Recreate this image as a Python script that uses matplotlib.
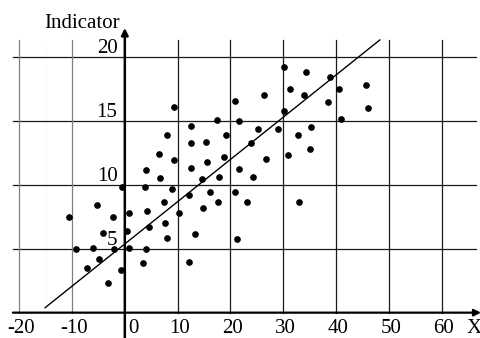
import matplotlib
matplotlib.use("Agg")
import matplotlib.pyplot as plt

# scatter data
x_vals = [9.4, 20.9, 17.5, 21.7, 12.5, 8.0, 12.5, 15.4, 19.1, 6.5,
          9.4, 12.6, 15.6, 18.7, 4.0, 6.6, 14.7, 17.8, -0.5, 3.8,
          9.0, 30.2, 34.3, 38.9, 45.6, 40.6, 31.2, 26.3, 33.9, 38.4,
          46.0, 30.2, 40.9, 25.2, 29.0, 35.3, 32.8, 23.9, 35.0, 31.0,
          26.7, 21.6, 24.2, 16.2, 12.1, 20.9, 7.4, 17.6, 23.2, 32.9,
          14.8, 10.3, 7.6, 13.3, 8.0, 21.3, 12.1, -5.3, -10.5, -2.3,
          0.8, 4.2, 4.5, -4.1, 0.4, -9.3, -6.0, -2.1, 0.8, 4.0,
          -4.8, -7.2, -0.8, 3.5, -3.1]
y_vals = [16.05, 16.54, 15.09, 15.0, 14.6, 13.87, 13.23, 13.31, 13.86, 12.42,
          11.93, 11.3, 11.77, 12.19, 11.17, 10.56, 10.41, 10.57, 9.78, 9.84,
          9.7, 19.17, 18.78, 18.41, 17.79, 17.48, 17.48, 17.0, 17.0, 16.44,
          15.97, 15.73, 15.16, 14.35, 14.35, 14.51, 13.86, 13.23, 12.81, 12.34,
          12.01, 11.19, 10.58, 9.43, 9.2, 9.43, 8.63, 8.63, 8.62, 8.62,
          8.16, 7.75, 7.03, 6.15, 5.81, 5.73, 3.98, 8.41, 7.5, 7.5,
          7.75, 7.91, 6.7, 6.23, 6.38, 4.94, 5.08, 5.0, 5.08, 5.0,
          4.22, 3.49, 3.34, 3.9, 2.28]

# trend line
fit_slope = 0.33
fit_intercept = 5.37
fit_x = [-15.1, 48.3]

x_ticks = [-20, -10, 0, 10, 20, 30, 40, 50, 60]
y_ticks = [5, 10, 15, 20]

plt.rcParams['font.family'] = ['Liberation Serif', 'DejaVu Serif']

fig = plt.figure(figsize=(4.81, 3.38), dpi=100)
ax = fig.add_axes([0, 0, 1, 1])
ax.set_xlim(-23.64, 67.46)
ax.set_ylim(-1.98, 24.43)
ax.axis('off')

x_left, x_right = -21.2, 66.5
y_top = 21.3

# grid
for yt in y_ticks:
    ax.plot([x_left, x_right], [yt, yt], color='#1a1a1a', lw=0.9, zorder=1)
for xt in x_ticks:
    if xt == 0:
        continue
    col = '#808080' if xt < 0 else '#1a1a1a'
    ax.plot([xt, xt], [0, y_top], color=col, lw=0.9, zorder=1)
ax.plot([-15, -15], [0.9, y_top - 0.1], color='#efefef', lw=0.6, ls=':', zorder=0)

# axes with arrows
ax.annotate('', xy=(67.46, 0), xytext=(x_left, 0),
            arrowprops=dict(arrowstyle='-|>', lw=1.6, color='black',
                            mutation_scale=10, shrinkA=0, shrinkB=0), zorder=3)
ax.annotate('', xy=(0, 22.24), xytext=(0, -2.0),
            arrowprops=dict(arrowstyle='-|>', lw=1.8, color='black',
                            mutation_scale=10, shrinkA=0, shrinkB=0), zorder=3)

# trend line
fit_y = [fit_slope * v + fit_intercept for v in fit_x]
ax.plot(fit_x, fit_y, color='black', lw=1.0, zorder=2)

# points
ax.plot(x_vals, y_vals, 'o', color='black', ms=3.8, zorder=4)

# labels
for yt in y_ticks:
    ax.text(-1.4, yt + 0.67, str(yt), ha='right', va='center', fontsize=15)
for xt in x_ticks:
    xp = 1.7 if xt == 0 else xt + 0.4
    ax.text(xp, -1.2, str(xt), ha='center', va='center', fontsize=15)
ax.text(66.1, -1.2, 'X', ha='center', va='center', fontsize=15)
ax.text(-0.9, 22.6, 'Indicator', ha='right', va='center', fontsize=15)

fig.savefig('out.png', dpi=100)
